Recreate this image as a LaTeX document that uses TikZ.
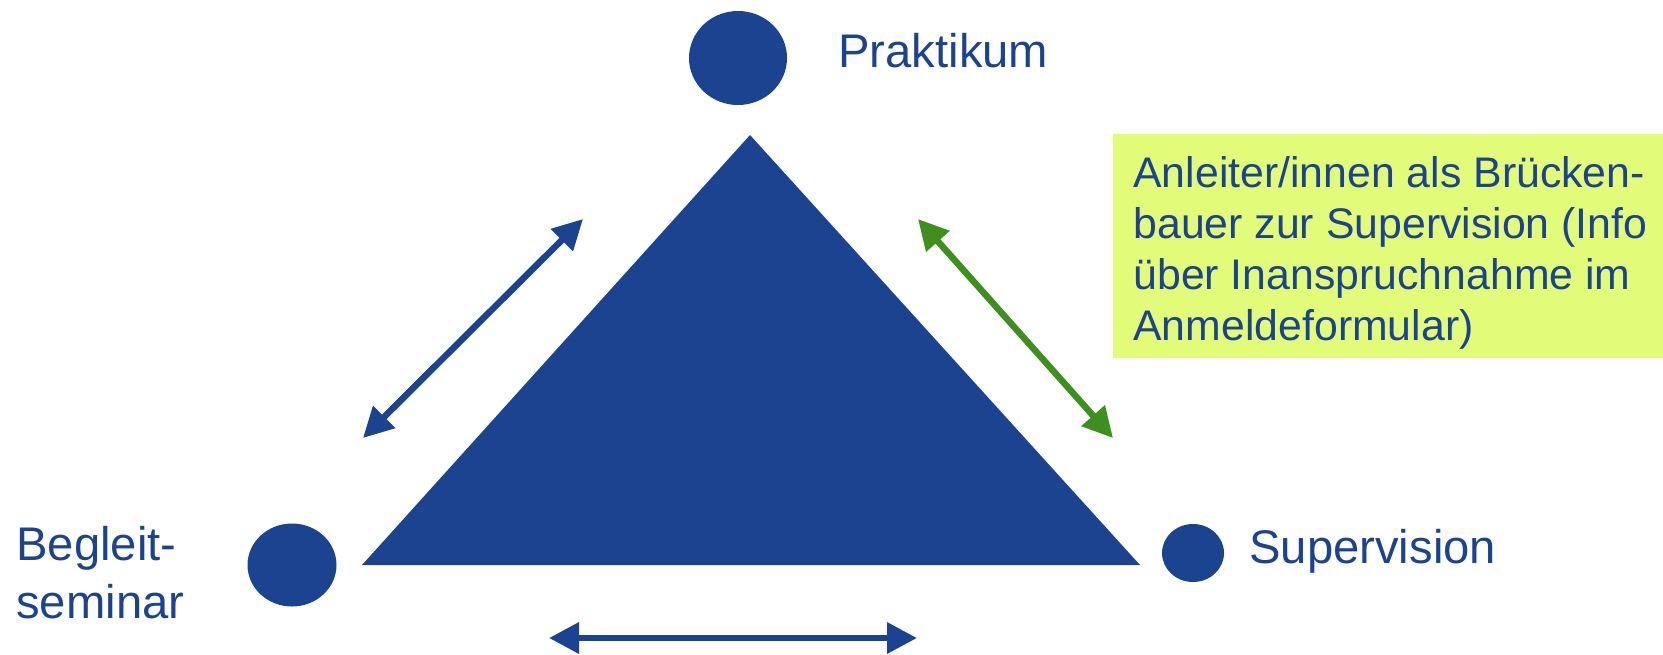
\documentclass[tikz,border=0pt]{standalone}
\usepackage{fontspec}
\setmainfont{Liberation Sans}
\usetikzlibrary{shapes.geometric,arrows.meta}
\definecolor{dblue}{RGB}{28,67,143}
\definecolor{dgreen}{RGB}{63,143,31}
\definecolor{limefill}{RGB}{226,252,122}
\begin{document}
\begin{tikzpicture}[x=0.5pt,y=-0.5pt,
  dot/.style={ellipse, fill=dblue, inner sep=0pt},
  lbl/.style={text=dblue, font=\fontsize{23.6}{29}\selectfont, inner sep=0pt},
  dbl/.style={line width=3.25pt, {Triangle[length=15pt,width=15pt]}-{Triangle[length=15pt,width=15pt]}},
]
\useasboundingbox (0,0) rectangle (1663,654);
% triangle
\coordinate (tA) at (750,135);
\coordinate (tB) at (362,565);
\coordinate (tC) at (1140,565);
\fill[dblue] (tA) -- (tB) -- (tC) -- cycle;
% circles
\node[dot, minimum width=49pt, minimum height=47pt] (praktikum) at (738,58) {};
\node[dot, minimum width=44.5pt, minimum height=41.5pt] (begleit) at (292,565) {};
\node[dot, minimum width=31pt, minimum height=29pt] (supervision) at (1193,553) {};
% labels
\node[lbl, anchor=base west] (lprak) at (838,67) {Praktikum};
\node[lbl, anchor=base west] (lsup) at (1249,563) {Supervision};
\node[lbl, anchor=base west, align=left] (lbeg) at (16,618) {Begleit-\\seminar};
% box
\node[fill=limefill, anchor=north west, minimum width=275pt, minimum height=112pt,
      inner sep=0pt] (box) at (1113,134) {};
\node[anchor=base west, inner sep=0pt, align=left, text=dblue,
      font=\fontsize{21.4}{25.5}\selectfont] (boxtext) at (1133,340)
  {Anleiter/innen als Brücken-\\bauer zur Supervision (Info\\über Inanspruchnahme im\\Anmeldeformular)};
% arrows
\coordinate (l1) at (363,438);
\coordinate (l2) at (583,219);
\coordinate (g1) at (918,219);
\coordinate (g2) at (1113,438);
\coordinate (b1) at (549,638);
\coordinate (b2) at (917,638);
\draw[dbl, dblue] (l1) -- (l2);
\draw[dbl, dgreen] (g1) -- (g2);
\draw[dbl, dblue] (b1) -- (b2);
\end{tikzpicture}
\end{document}
